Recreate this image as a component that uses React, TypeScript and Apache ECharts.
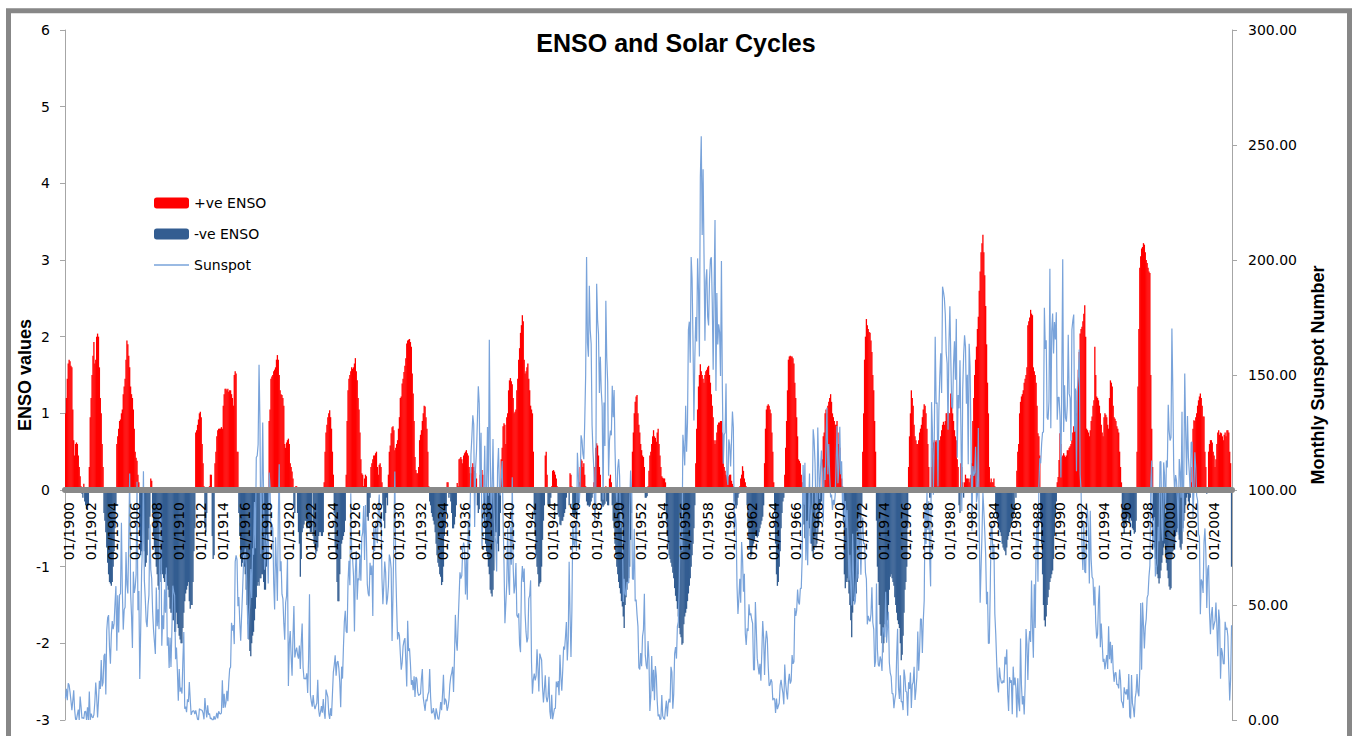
import React, { useEffect, useRef } from "react";
import * as echarts from "echarts";

// ENSO index, monthly, one row per year
const enso1900s = [
  1.0, 1.2, 1.45, 1.65, 1.7, 1.68, 1.62, 1.6, 1.05, 0.65, 0.45, 0.6,
  0.62, 0.6, 0.45, 0.3, 0.18, 0.05, -0.05, -0.1, 0.08, -0.15, -0.2, -0.25,
  -0.25, -0.2, 0.3, 0.95, 1.2, 1.5, 1.75, 1.93, 1.65, 1.7, 2.0, 2.04,
  2.0, 1.6, 1.2, 1.0, 0.6, 0.3, -0.3, -0.4, -0.55, -0.75, -0.95, -1.1,
  -1.2, -1.22, -1.25, -1.2, -1.0, -0.8, -0.5, -0.2, 0.6, 0.7, 0.8, 0.9,
  0.92, 1.0, 1.05, 1.25, 1.35, 1.45, 1.7, 1.95, 1.9, 1.75, 1.6, 1.35,
  1.25, 1.2, 1.05, 0.8, 0.5, 0.42, 0.38, 0.2, 0.1, -0.6, -0.85, -0.8,
  -0.7, -0.5, -0.8, -1.0, -0.95, -0.85, -0.65, -0.5, -0.35, 0.15, 0.12, -0.3,
  -0.6, -0.75, -0.85, -1.0, -1.1, -1.25, -1.3, -1.2, -1.1, -1.05, -1.1, -1.15,
  -1.2, -1.1, -1.2, -1.25, -1.3, -1.4, -1.55, -1.6, -1.6, -1.7, -1.7, -1.85,
];
const enso1910s = [
  -1.85, -1.6, -1.75, -1.8, -1.9, -1.95, -2.0, -2.0, -1.8, -1.6, -1.45, -1.35,
  -1.3, -1.25, -1.2, -1.45, -1.55, -1.5, -1.5, -1.2, -0.8, -0.5, 0.75, 0.78,
  0.85, 0.92, 1.0, 1.02, 0.95, 0.6, 0.35, 0.05, -0.5, -0.55, -0.3, 0.03,
  0.03, 0.05, 0.2, 0.2, -0.6, -0.9, -0.85, 0.35, 0.5, 0.7, 0.78, 0.8,
  0.8, 0.8, 0.82, 0.8, 1.1, 1.25, 1.32, 1.32, 1.3, 1.32, 1.28, 1.3,
  1.3, 1.25, 1.2, 1.1, 1.5, 1.55, 1.52, 0.5, 0.5, -0.3, -0.6, -0.9,
  -1.0, -0.95, -0.85, -1.0, -1.1, -1.3, -1.5, -1.75, -1.95, -2.1, -2.17, -2.0,
  -1.9, -1.85, -1.7, -1.55, -1.4, -1.25, -1.2, -1.25, -1.15, -1.15, -1.1, -1.1,
  -1.2, -1.3, -1.3, -1.0, -0.8, -0.5, 0.9, 1.05, 1.45, 1.48, 1.5, 1.55,
  1.57, 1.6, 1.7, 1.76, 1.7, 1.5, 1.3, 1.25, 1.24, 1.2, 1.1, 0.6,
];
const enso1920s = [
  0.55, 0.62, 0.65, 0.67, 0.6, 0.35, 0.3, 0.24, 0.15, -0.2, -0.3, 0.05,
  0.05, -0.3, -0.55, -0.7, -1.13, -0.9, -0.55, -0.5, -0.45, -0.4, -0.4, -0.5,
  -0.5, -0.45, -0.5, -0.55, -0.55, 0.03, -0.6, -0.7, -0.75, -0.83, -0.8, -0.75,
  -0.6, -0.55, -0.55, -0.6, -0.6, -0.55, 0.1, 0.5, 0.75, 0.85, 0.95, 1.0,
  1.04, 0.95, 0.8, 0.5, 0.2, -0.3, -0.75, -0.85, -1.2, -1.45, -1.45, -1.1,
  -0.9, -0.7, -0.65, -0.6, -0.55, -0.4, 0.2, 0.9, 1.3, 1.45, 1.5, 1.55,
  1.6, 1.58, 1.6, 1.65, 1.72, 1.55, 1.43, 1.2, 1.05, 0.75, 0.4, 0.22,
  0.2, 0.05, 0.15, 0.2, 0.18, -0.35, -0.4, -0.3, -0.1, 0.3, 0.35, 0.4,
  0.45, 0.45, 0.48, 0.5, 0.3, 0.2, 0.33, 0.35, 0.3, 0.1, -0.2, -0.4,
  -0.5, -0.3, -0.1, -0.2, 0.2, 0.5, 0.58, 0.74, 0.82, 0.83, 0.78, 0.52,
];
const enso1930s = [
  0.55, 0.6, 0.65, 0.8, 0.95, 1.2, 1.22, 1.39, 1.45, 1.54, 1.62, 1.72,
  1.91, 1.95, 1.96, 1.97, 1.93, 1.87, 1.52, 1.26, 0.9, 0.43, 0.26, 0.22,
  0.22, 0.3, 0.65, 0.72, 0.78, 0.9, 1.0, 1.1, 1.09, 0.95, 0.8, 0.5,
  0.05, -0.15, -0.2, -0.3, -0.35, -0.4, -0.45, -0.55, -0.7, -0.85, -0.95, -1.0,
  -1.1, -1.13, -1.24, -1.2, -1.0, -0.6, -0.5, -0.3, 0.1, 0.1, -0.1, -0.05,
  -0.15, -0.3, -0.5, -0.5, -0.45, -0.35, -0.2, 0.09, 0.05, 0.4, 0.41, 0.43,
  0.4, 0.35, 0.45, 0.48, 0.5, 0.52, 0.48, 0.45, 0.3, 0.22, 0.22, 0.3,
  0.35, 0.3, 0.25, 0.22, 0.15, -0.2, -0.3, -0.25, 0.2, 0.22, 0.26, 0.2,
  -0.3, -0.5, -0.7, -0.8, -0.87, -1.0, -1.1, -1.3, -1.35, -1.39, -1.3, -1.05,
  -0.6, -0.55, -0.55, -0.7, -0.8, -0.6, -0.3, 0.4, 0.55, 0.83, 0.87, 0.85,
];
const enso1940s = [
  0.6, 0.95, 1.0, 1.3, 1.43, 1.46, 1.42, 1.38, 1.2, 1.0, 1.02, 1.05,
  1.3, 1.45, 1.7, 1.85, 2.05, 2.15, 2.28, 2.2, 1.7, 1.52, 1.55, 1.6,
  1.65, 1.45, 1.3, 1.1, 1.05, 1.0, 0.5, -0.3, -0.6, -0.85, -1.0, -1.1,
  -1.26, -1.22, -1.2, -1.0, -0.65, -0.4, -0.2, 0.45, 0.5, 0.2, -0.2, -0.22,
  -0.2, -0.1, 0.05, 0.25, 0.26, 0.24, 0.2, 0.15, 0.05, -0.3, -0.35, -0.45,
  -0.46, -0.4, -0.4, -0.35, -0.3, -0.25, -0.1, 0.03, 0.02, -0.2, 0.22, 0.2,
  0.05, -0.3, -0.35, -0.35, -0.3, -0.3, -0.25, -0.2, 0.1, 0.3, 0.4, 0.38,
  0.3, 0.35, 0.2, 0.05, -0.15, -0.2, -0.2, -0.22, -0.2, -0.15, -0.1, -0.05,
  0.1, 0.3, 0.55, 0.61, 0.58, 0.45, 0.3, 0.2, -0.15, -0.2, -0.22, -0.2,
  -0.18, 0.05, -0.15, -0.2, -0.2, 0.15, 0.2, 0.1, -0.2, -0.4, -0.5, -0.7,
];
const enso1950s = [
  -0.85, -1.0, -1.1, -1.2, -1.28, -1.35, -1.45, -1.52, -1.65, -1.8, -1.5, -1.4,
  -1.3, -1.2, -1.15, -1.0, -0.65, -0.3, 0.5, 0.75, 1.0, 1.15, 1.22, 1.24,
  1.0, 0.85, 0.75, 0.6, 0.52, 0.45, 0.43, 0.3, -0.1, -0.1, -0.08, 0.05,
  0.25, 0.45, 0.5, 0.6, 0.7, 0.78, 0.7, 0.68, 0.63, 0.75, 0.8, 0.6,
  0.45, 0.3, 0.18, 0.16, 0.15, 0.15, 0.1, -0.4, -0.6, -0.7, -0.85, -0.9,
  -0.95, -1.0, -1.08, -1.15, -1.28, -1.38, -1.45, -1.55, -1.65, -1.8, -1.88, -1.92,
  -2.02, -2.0, -1.75, -1.65, -1.6, -1.55, -1.45, -1.35, -1.25, -1.15, -1.0, -0.85,
  -0.7, -0.5, -0.2, 0.35, 0.8, 1.05, 1.35, 1.5, 1.64, 1.55, 1.5, 1.45,
  1.4, 1.5, 1.55, 1.57, 1.6, 1.62, 1.5, 1.4, 1.25, 1.1, 0.95, 0.65,
  0.6, 0.65, 0.75, 0.85, 0.88, 0.88, 0.9, 0.9, 0.75, 0.55, 0.3, 0.25,
];
const enso1960s = [
  0.2, 0.18, 0.15, 0.18, 0.2, 0.2, 0.12, 0.08, 0.05, -0.15, -0.2, -0.24,
  -0.2, -0.1, -0.05, 0.05, 0.15, 0.2, 0.31, 0.25, 0.15, 0.1, 0.05, -0.2,
  -0.5, -0.65, -0.78, -0.88, -0.85, -0.75, -0.7, -0.65, -0.6, -0.6, -0.62, -0.6,
  -0.55, -0.5, -0.45, -0.4, -0.35, -0.2, 0.35, 0.8, 1.05, 1.1, 1.12, 1.1,
  1.05, 1.0, 0.75, 0.5, 0.1, -0.3, -0.7, -1.1, -1.25, -1.2, -1.0, -0.8,
  -0.5, -0.3, -0.15, -0.1, 0.2, 0.55, 0.9, 1.3, 1.7, 1.74, 1.75, 1.74,
  1.74, 1.72, 1.65, 1.4, 1.2, 0.95, 0.7, 0.4, 0.38, 0.35, 0.2, 0.1,
  -0.2, -0.45, -0.63, -0.65, -0.55, -0.4, -0.45, -0.5, -0.6, -0.7, -0.8, -0.88,
  -0.75, -0.6, -0.75, -0.7, -0.55, -0.45, -0.3, -0.2, -0.15, 0.4, 0.7, 0.75,
  1.0, 1.05, 1.0, 1.1, 1.15, 1.2, 1.25, 1.15, 1.0, 0.95, 0.9, 0.85,
];
const enso1970s = [
  0.85, 0.9, 0.75, 0.6, 0.55, 0.25, 0.15, 0.05, -0.4, -1.1, -1.28, -1.2,
  -1.15, -1.2, -1.35, -1.5, -1.7, -1.92, -1.6, -1.45, -1.4, -1.35, -1.35, -1.2,
  -1.1, -0.9, -0.7, -0.45, -0.2, 0.5, 1.0, 1.7, 2.0, 2.23, 2.15, 2.1,
  2.06, 2.05, 1.95, 1.8, 1.5, 1.3, 0.9, 0.5, -0.4, -1.0, -1.2, -1.5,
  -1.75, -1.9, -2.0, -2.12, -2.0, -1.75, -1.65, -1.8, -1.7, -1.5, -1.3, -1.13,
  -1.1, -1.15, -1.2, -1.25, -1.4, -1.5, -1.6, -1.7, -1.75, -1.8, -2.0, -2.22,
  -2.15, -1.9, -1.6, -1.3, -1.2, -1.0, -0.5, 0.3, 0.7, 1.0, 1.3, 1.2,
  1.1, 0.85, 0.7, 0.65, 0.6, 0.6, 0.65, 0.75, 0.8, 0.85, 0.95, 1.05,
  1.12, 1.1, 1.0, 0.8, 0.6, 0.3, -0.1, -0.1, 0.3, 0.55, 0.62, 0.65,
  0.63, 0.65, 0.62, 0.6, 0.65, 0.65, 0.7, 0.78, 0.85, 0.89, 0.85, 0.9,
];
const enso1980s = [
  1.0, 1.0, 1.02, 1.0, 1.0, 1.26, 1.2, 1.0, 0.9, 0.78, 0.7, 0.65,
  0.4, 0.3, -0.2, -0.3, 0.35, 0.3, 0.1, -0.1, 0.1, 0.2, 0.15, 0.15,
  0.15, 0.1, 0.15, 0.2, 0.35, 0.9, 1.2, 1.5, 1.7, 1.87, 2.1, 2.26,
  2.6, 2.85, 3.1, 3.22, 3.33, 3.1, 2.8, 2.4, 1.9, 1.4, 1.0, 0.3,
  0.1, 0.15, 0.1, 0.1, 0.15, 0.05, -0.3, -0.35, -0.4, -0.5, -0.52, -0.55,
  -0.6, -0.7, -0.75, -0.78, -0.8, -0.85, -0.75, -0.65, -0.6, -0.55, -0.5, -0.45,
  -0.4, -0.35, -0.3, 0.02, -0.1, 0.25, 0.5, 0.6, 1.0, 1.15, 1.22, 1.25,
  1.3, 1.4, 1.45, 1.5, 1.6, 2.15, 2.2, 2.25, 2.35, 2.3, 2.28, 1.6,
  1.55, 1.5, 1.4, 1.1, 0.74, 0.7, 0.45, -0.4, -0.7, -1.1, -1.5, -1.7,
  -1.78, -1.65, -1.5, -1.4, -1.3, -1.2, -1.15, -1.1, -1.05, -0.9, -0.6, -0.35,
];
const enso1990s = [
  -0.15, 0.1, 0.17, 0.39, 0.74, 0.6, 0.43, 0.45, 0.48, 0.45, 0.43, 0.45,
  0.52, 0.52, 0.55, 0.57, 0.6, 0.65, 0.75, 0.83, 1.0, 1.17, 1.0, 1.3,
  1.57, 1.8, 2.04, 2.1, 2.13, 2.2, 2.3, 2.41, 2.0, 0.8, 0.78, 0.75,
  0.7, 0.78, 0.9, 0.96, 1.1, 1.17, 1.87, 1.5, 1.22, 1.2, 1.17, 1.1,
  1.0, 0.85, 0.75, 0.7, 0.95, 1.0, 0.98, 0.95, 0.85, 0.8, 1.2, 1.43,
  1.4, 1.35, 1.1, 0.95, 0.93, 0.9, 0.83, 0.8, 0.75, 0.5, 0.3, 0.1,
  -0.4, -0.5, -0.57, -0.45, -0.4, -0.38, -0.35, -0.4, -0.42, -0.35, -0.4, -0.5,
  -0.52, -0.57, -0.55, -0.4, 0.5, 1.35, 2.1, 2.9, 3.05, 3.15, 3.17, 3.22,
  3.2, 3.1, 3.0, 2.96, 2.9, 2.85, 2.83, 1.5, 0.8, 0.3, -0.4, -0.75,
  -0.9, -1.0, -1.1, -1.15, -1.22, -1.15, -1.05, -0.95, -0.85, -0.75, -0.7, -0.85,
];
const enso2000s = [
  -0.95, -1.05, -1.15, -1.26, -1.3, -1.28, -0.9, -0.8, -0.78, -0.7, -0.6, -0.55,
  -0.5, -0.55, -0.65, -0.75, -0.78, -0.7, -0.5, -0.4, -0.3, -0.2, -0.1, -0.05,
  -0.15, -0.2, -0.1, 0.1, 0.3, 0.8, 0.91, 0.9, 0.95, 1.0, 1.1, 1.17,
  1.22, 1.26, 1.2, 1.1, 0.96, 0.96, 0.5, 0.3, -0.05, 0.02, 0.5, 0.6,
  0.65, 0.65, 0.62, 0.5, 0.45, 0.3, 0.4, 0.6, 0.75, 0.78, 0.72, 0.75,
  0.74, 0.7, 0.65, 0.72, 0.75, 0.7, 0.78, 0.78, 0.75, 0.5, 0.35, -1.0,
];

// Monthly sunspot number, one row per year
const sun1900s = [
  9.4, 13.6, 8.6, 16.0, 15.2, 12.1, 8.3, 4.3, 8.3, 12.9, 4.5, 0.3,
  0.2, 2.4, 4.5, 0.0, 10.2, 5.8, 0.7, 1.0, 0.6, 3.7, 3.8, 0.0,
  5.5, 0.0, 12.4, 0.0, 2.8, 1.4, 0.9, 2.3, 7.6, 16.3, 10.3, 1.1,
  8.3, 17.0, 13.5, 26.1, 14.6, 16.3, 27.9, 28.8, 11.1, 38.9, 44.5, 45.6,
  31.6, 24.5, 37.2, 43.0, 39.5, 41.9, 50.6, 58.2, 30.1, 54.2, 38.0, 54.6,
  54.8, 85.8, 56.5, 39.3, 48.0, 49.0, 73.0, 58.8, 55.0, 78.7, 107.2, 55.5,
  45.5, 31.3, 64.5, 55.3, 57.7, 63.2, 103.6, 47.7, 56.1, 17.8, 38.9, 64.7,
  76.4, 108.2, 60.7, 52.6, 42.9, 40.4, 49.7, 54.3, 85.0, 65.4, 61.5, 47.3,
  39.2, 33.9, 28.7, 57.6, 40.8, 48.1, 39.5, 90.5, 86.9, 32.3, 45.5, 39.5,
  56.7, 46.6, 66.3, 32.3, 36.0, 22.6, 35.8, 23.1, 38.8, 58.4, 55.8, 54.2,
];
const sun1910s = [
  26.4, 31.5, 21.4, 8.4, 22.2, 12.3, 14.1, 11.5, 26.2, 38.3, 4.9, 5.8,
  3.4, 9.0, 7.8, 16.5, 9.0, 2.2, 3.5, 4.0, 4.0, 2.6, 4.2, 2.2,
  0.3, 0.0, 4.9, 4.5, 4.4, 4.1, 3.0, 0.3, 9.5, 4.6, 1.1, 6.4,
  2.3, 2.9, 0.5, 0.9, 0.0, 0.0, 1.7, 0.2, 1.2, 3.1, 0.7, 3.8,
  2.8, 2.6, 3.1, 17.3, 5.2, 11.4, 5.4, 7.7, 12.7, 8.2, 16.4, 22.3,
  23.0, 42.3, 38.8, 41.3, 33.0, 68.8, 71.6, 69.6, 49.5, 53.5, 42.5, 34.5,
  45.3, 55.4, 67.0, 71.8, 74.5, 67.7, 53.5, 35.2, 45.1, 50.7, 65.6, 53.0,
  74.7, 71.9, 94.8, 74.7, 114.1, 114.9, 119.8, 154.5, 129.4, 72.2, 96.4, 129.3,
  96.0, 65.3, 72.2, 80.5, 76.7, 59.4, 107.6, 101.7, 79.9, 85.0, 83.4, 59.2,
  48.1, 79.5, 66.5, 51.8, 88.1, 111.2, 64.7, 69.0, 54.7, 52.8, 42.0, 34.9,
];
const sun1920s = [
  51.1, 53.9, 70.2, 14.8, 33.3, 38.7, 27.5, 19.2, 36.3, 49.6, 27.2, 29.9,
  31.5, 28.3, 26.7, 32.4, 22.2, 33.7, 41.9, 22.8, 17.8, 18.2, 17.8, 20.3,
  11.8, 26.4, 54.7, 11.0, 8.0, 5.8, 10.9, 6.5, 4.7, 6.2, 7.4, 17.5,
  4.5, 1.5, 3.3, 6.1, 3.2, 9.1, 3.5, 0.5, 13.2, 11.6, 10.0, 2.8,
  0.5, 5.1, 1.8, 11.3, 20.8, 24.0, 28.1, 19.3, 25.1, 25.6, 22.5, 16.5,
  5.5, 23.2, 18.0, 31.7, 42.8, 47.5, 38.5, 37.9, 60.2, 69.2, 58.6, 98.6,
  71.8, 69.9, 62.5, 38.5, 64.3, 73.5, 52.3, 61.6, 60.8, 71.5, 60.5, 79.4,
  81.6, 93.0, 69.6, 93.5, 79.1, 59.1, 54.9, 53.8, 68.4, 63.1, 67.2, 45.2,
  83.5, 73.5, 85.4, 80.6, 76.9, 91.4, 98.0, 83.8, 89.7, 61.4, 50.3, 59.0,
  68.9, 64.1, 50.2, 52.8, 58.2, 71.9, 70.2, 65.8, 34.4, 54.0, 81.1, 108.0,
];
const sun1930s = [
  65.3, 49.2, 35.0, 38.2, 36.8, 28.8, 21.9, 24.9, 32.1, 34.4, 35.6, 25.8,
  14.6, 43.1, 30.0, 31.2, 24.6, 15.3, 17.4, 13.0, 19.0, 10.0, 18.7, 17.8,
  12.1, 10.6, 11.2, 11.2, 17.9, 22.2, 9.6, 6.8, 4.0, 8.9, 8.2, 11.0,
  12.3, 22.2, 10.1, 2.9, 3.2, 5.2, 2.8, 0.2, 5.1, 3.0, 0.6, 0.3,
  3.4, 7.8, 4.3, 11.3, 19.7, 6.7, 9.3, 8.3, 4.0, 5.7, 8.7, 15.4,
  18.9, 20.5, 23.1, 12.2, 27.3, 45.7, 33.9, 30.1, 42.1, 53.2, 64.2, 61.5,
  62.8, 74.3, 77.1, 74.9, 54.6, 70.0, 52.3, 87.0, 76.0, 89.0, 115.4, 123.4,
  132.5, 128.5, 83.9, 109.3, 116.7, 130.3, 145.1, 137.7, 100.7, 124.9, 74.4, 88.8,
  98.4, 119.2, 86.5, 101.0, 127.4, 97.5, 165.3, 115.7, 89.6, 99.1, 122.2, 92.7,
  80.3, 77.4, 64.6, 109.1, 118.3, 101.0, 97.6, 105.8, 112.6, 88.1, 68.1, 42.1,
];
const sun1940s = [
  50.5, 59.4, 83.3, 60.7, 54.4, 83.9, 67.5, 105.5, 66.5, 55.0, 58.4, 68.3,
  45.6, 44.5, 46.4, 32.8, 29.5, 59.8, 66.9, 60.0, 65.9, 46.3, 38.3, 33.7,
  35.6, 52.8, 54.2, 60.7, 25.0, 11.4, 17.7, 20.2, 17.2, 19.2, 30.7, 22.5,
  12.4, 28.9, 27.4, 26.1, 14.1, 7.6, 13.2, 19.4, 10.0, 7.8, 10.2, 18.8,
  3.7, 0.5, 11.0, 0.3, 2.5, 5.0, 5.0, 16.7, 14.3, 16.9, 10.8, 28.4,
  18.5, 12.7, 21.5, 32.0, 30.6, 36.2, 42.6, 25.9, 34.9, 68.8, 46.0, 27.4,
  47.6, 86.2, 76.6, 75.7, 84.9, 73.5, 116.2, 107.2, 94.4, 102.3, 123.8, 121.7,
  115.7, 113.4, 129.8, 149.8, 201.3, 163.9, 157.9, 188.8, 169.4, 163.6, 128.0, 116.5,
  108.5, 86.1, 94.8, 189.7, 174.0, 167.8, 142.2, 157.9, 143.3, 136.3, 95.8, 138.0,
  119.1, 182.3, 157.5, 147.0, 106.2, 121.7, 125.8, 123.8, 145.3, 131.6, 143.5, 117.6,
];
const sun1950s = [
  101.6, 94.8, 109.7, 113.4, 106.2, 83.6, 91.0, 85.2, 51.3, 61.4, 54.8, 54.1,
  59.9, 59.9, 59.6, 92.9, 108.5, 100.6, 61.5, 61.0, 83.1, 51.6, 52.4, 45.8,
  40.7, 22.7, 22.0, 29.1, 23.4, 36.4, 39.3, 54.9, 28.2, 23.8, 22.1, 34.3,
  26.5, 3.9, 10.0, 27.8, 12.5, 21.8, 8.6, 23.5, 19.3, 8.2, 1.6, 2.5,
  0.2, 0.5, 10.9, 1.8, 0.8, 0.2, 4.8, 8.4, 1.5, 7.0, 9.2, 7.6,
  23.1, 20.8, 4.9, 11.3, 28.9, 31.7, 26.7, 40.7, 42.7, 58.5, 89.2, 76.9,
  73.6, 124.0, 118.4, 110.7, 136.6, 116.6, 129.1, 169.6, 173.2, 155.3, 201.3, 192.1,
  165.0, 130.2, 157.4, 175.2, 164.6, 200.7, 187.2, 158.0, 235.8, 253.8, 210.9, 239.4,
  202.5, 164.9, 190.7, 196.0, 175.3, 171.5, 191.4, 200.2, 201.2, 181.5, 152.3, 187.6,
  217.4, 143.1, 185.7, 163.3, 172.0, 168.7, 149.6, 199.6, 145.2, 111.4, 124.0, 125.0,
];
const sun1960s = [
  146.3, 106.0, 102.2, 122.0, 119.6, 110.2, 121.7, 134.1, 127.2, 82.8, 89.6, 85.6,
  57.9, 46.1, 53.0, 61.4, 51.0, 77.4, 70.2, 55.8, 63.6, 37.7, 32.6, 39.9,
  38.7, 50.3, 45.6, 46.4, 43.7, 42.0, 21.8, 21.8, 51.3, 39.5, 26.9, 23.2,
  19.8, 24.4, 17.1, 29.3, 43.0, 35.9, 19.6, 33.2, 38.8, 35.3, 23.4, 14.9,
  15.3, 17.7, 16.5, 8.6, 9.5, 9.1, 3.1, 9.3, 4.7, 6.1, 7.4, 15.1,
  17.5, 14.2, 11.7, 6.8, 24.1, 15.9, 11.9, 8.9, 16.8, 20.1, 15.8, 17.0,
  28.2, 24.4, 25.3, 48.7, 45.3, 47.7, 56.7, 51.2, 50.2, 57.2, 57.2, 70.4,
  110.9, 93.6, 111.8, 69.5, 86.5, 67.3, 91.5, 107.2, 76.8, 88.2, 94.3, 126.4,
  121.8, 111.9, 92.2, 81.2, 127.2, 110.3, 96.1, 109.3, 117.2, 107.7, 86.0, 109.8,
  104.4, 120.5, 135.8, 106.8, 120.0, 106.0, 96.8, 98.0, 91.3, 95.7, 93.5, 97.9,
];
const sun1970s = [
  111.5, 127.8, 102.9, 109.5, 127.5, 106.8, 112.5, 93.0, 99.5, 86.6, 95.2, 83.5,
  91.3, 79.0, 60.7, 71.8, 57.5, 49.8, 81.0, 61.4, 50.2, 51.7, 63.2, 82.2,
  61.5, 88.4, 80.1, 63.2, 80.5, 88.0, 76.5, 76.8, 64.0, 61.3, 41.6, 45.3,
  43.4, 42.9, 46.0, 57.7, 42.4, 39.5, 23.1, 25.6, 59.3, 30.7, 23.9, 23.3,
  27.6, 26.0, 21.3, 40.3, 39.5, 36.0, 55.8, 33.6, 40.2, 47.1, 25.0, 20.5,
  18.9, 11.5, 11.5, 5.1, 9.0, 11.4, 28.2, 39.7, 13.9, 9.1, 19.4, 7.8,
  8.1, 4.3, 21.9, 18.8, 12.4, 12.2, 1.9, 16.4, 13.5, 20.6, 5.2, 15.3,
  16.4, 23.1, 8.7, 12.9, 18.6, 38.5, 21.4, 30.1, 44.0, 43.8, 29.1, 43.2,
  51.9, 93.6, 76.5, 99.7, 82.7, 95.1, 70.4, 58.1, 138.2, 125.1, 97.9, 122.7,
  166.6, 137.5, 138.0, 101.5, 134.4, 149.5, 159.4, 142.2, 188.4, 186.2, 183.3, 176.3,
];
const sun1980s = [
  159.6, 155.0, 126.2, 164.1, 179.9, 157.3, 136.3, 135.4, 155.0, 164.7, 147.9, 174.4,
  114.0, 141.3, 135.5, 156.4, 127.5, 90.9, 143.8, 158.7, 167.3, 162.4, 137.5, 150.1,
  111.2, 163.6, 153.8, 122.0, 82.2, 110.4, 106.1, 107.6, 118.8, 94.7, 98.1, 127.0,
  84.3, 51.0, 66.5, 80.7, 99.2, 91.1, 82.2, 71.8, 50.3, 55.8, 33.3, 33.4,
  57.0, 85.1, 83.5, 69.7, 76.4, 46.1, 37.4, 25.5, 15.7, 12.0, 22.8, 18.7,
  16.5, 15.9, 17.2, 16.2, 27.5, 24.2, 30.7, 11.1, 3.9, 18.6, 16.2, 17.3,
  2.5, 23.2, 15.1, 18.5, 13.7, 1.1, 18.1, 7.4, 3.8, 35.4, 15.2, 6.8,
  10.4, 2.4, 14.7, 39.6, 33.0, 17.4, 33.0, 38.7, 33.9, 60.6, 39.9, 27.1,
  59.0, 40.0, 76.2, 88.0, 60.1, 101.8, 113.8, 111.6, 120.1, 125.1, 125.1, 179.2,
  161.3, 165.1, 131.4, 130.6, 138.5, 196.2, 126.9, 168.9, 176.7, 159.4, 173.0, 165.5,
];
const sun1990s = [
  177.3, 130.5, 140.3, 140.3, 132.2, 105.4, 149.4, 200.3, 125.2, 145.5, 131.4, 129.7,
  136.9, 167.5, 141.9, 140.0, 121.3, 169.7, 173.7, 176.3, 125.3, 144.1, 108.2, 144.4,
  150.0, 161.1, 106.7, 99.8, 73.8, 65.2, 85.7, 64.5, 63.9, 88.7, 91.8, 82.6,
  59.3, 91.0, 69.8, 62.2, 61.3, 49.8, 57.9, 42.4, 35.4, 37.3, 51.6, 58.5,
  31.6, 41.9, 33.9, 25.3, 26.6, 22.0, 25.4, 28.2, 22.2, 40.8, 26.4, 34.0,
  24.7, 32.6, 21.9, 16.6, 20.5, 20.6, 15.3, 15.5, 13.7, 21.9, 17.4, 8.3,
  7.4, 5.2, 14.2, 11.9, 11.1, 13.4, 8.8, 20.0, 1.5, 0.7, 19.6, 7.2,
  5.2, 1.2, 9.6, 12.2, 20.0, 12.1, 10.3, 22.1, 50.9, 21.9, 51.1, 41.4,
  31.1, 40.5, 43.9, 53.2, 54.5, 62.4, 67.1, 102.5, 112.8, 74.0, 81.5, 88.2,
  62.4, 66.0, 68.1, 84.0, 77.7, 112.3, 112.4, 83.8, 77.9, 112.0, 106.5, 90.0,
];
const sun2000s = [
  112.8, 109.8, 137.1, 125.6, 121.5, 122.9, 170.2, 143.8, 108.6, 98.9, 106.5, 104.1,
  95.6, 80.6, 113.5, 107.7, 96.6, 134.0, 81.8, 106.4, 150.7, 125.5, 106.5, 132.2,
  114.1, 107.4, 98.4, 120.7, 120.8, 88.3, 99.6, 116.4, 109.6, 97.5, 95.5, 80.8,
  79.7, 46.0, 61.1, 60.0, 55.2, 77.4, 83.3, 72.7, 48.7, 65.5, 67.3, 46.5,
  37.3, 45.8, 49.1, 39.3, 41.5, 43.2, 51.1, 40.9, 27.7, 48.0, 43.5, 17.9,
  31.3, 29.2, 24.5, 24.4, 42.7, 39.3, 40.1, 36.4, 22.1, 8.5, 18.0, 41.2,
];

const startYear = 1900;
const labelEvery = 24; // tick labels every two years
const seriesNames = ["+ve ENSO", "-ve ENSO", "Sunspot"];

const ensoValues = [
  ...enso1900s, ...enso1910s, ...enso1920s, ...enso1930s, ...enso1940s, ...enso1950s,
  ...enso1960s, ...enso1970s, ...enso1980s, ...enso1990s, ...enso2000s,
];
const sunspotValues = [
  ...sun1900s, ...sun1910s, ...sun1920s, ...sun1930s, ...sun1940s, ...sun1950s,
  ...sun1960s, ...sun1970s, ...sun1980s, ...sun1990s, ...sun2000s,
];
const monthLabels = ensoValues.map((_, i) => {
  const m = (i % 12) + 1;
  return `${m < 10 ? "0" + m : m}/${startYear + Math.floor(i / 12)}`;
});
const positiveEnso = ensoValues.map((v) => (v > 0 ? v : "-"));
const negativeEnso = ensoValues.map((v) => (v < 0 ? v : "-"));

const FONT = "DejaVu Sans";
const GRID_TOP = 30;
const GRID_BOTTOM = 16;
const PLOT_H = 736 - GRID_TOP - GRID_BOTTOM;
// x axis crosses the left axis at 0 (range -3..6)
const X_AXIS_OFFSET = -(PLOT_H * 3) / 9;

export default function App() {
  const ref = useRef<HTMLDivElement>(null);
  useEffect(() => {
    if (!ref.current) return;
    const chart = echarts.init(ref.current, null, { renderer: "svg" });
    chart.setOption({
      animation: false,
      backgroundColor: "#ffffff",
      textStyle: { fontFamily: FONT },
      title: {
        text: "ENSO and Solar Cycles",
        left: "center",
        top: 30,
        padding: 0,
        textStyle: { fontFamily: "Liberation Sans", fontSize: 25, fontWeight: "bold", color: "#000" },
      },
      legend: {
        orient: "vertical",
        left: 154,
        top: 196,
        itemWidth: 35,
        itemHeight: 11,
        itemGap: 17,
        padding: 0,
        data: [
          { name: seriesNames[0] },
          { name: seriesNames[1] },
          { name: seriesNames[2], icon: "path://M0,0L35,0L35,1.6L0,1.6Z" },
        ],
        textStyle: { fontFamily: FONT, fontSize: 14, color: "#000", lineHeight: 14 },
      },
      graphic: [
        {
          type: "rect",
          shape: { x: 8.5, y: 10.8, width: 1341, height: 760 },
          style: { fill: "none", stroke: "#878787", lineWidth: 5 },
          silent: true,
        },
      ],
      grid: {
        left: 65,
        right: 120,
        top: GRID_TOP,
        bottom: GRID_BOTTOM,
        containLabel: false,
        outerBoundsMode: "none",
      },
      xAxis: {
        type: "category",
        data: monthLabels,
        position: "bottom",
        offset: X_AXIS_OFFSET,
        axisLine: { onZero: false, lineStyle: { color: "#898989", width: 6 } },
        axisTick: { show: false },
        axisLabel: {
          interval: (i: number) => i % labelEvery === 0,
          rotate: 90,
          margin: 12,
          fontFamily: FONT,
          fontSize: 14,
          color: "#000",
          verticalAlign: "top",
          lineHeight: 7,
          hideOverlap: false,
        },
        splitLine: { show: false },
        z: 10,
      },
      yAxis: [
        {
          type: "value",
          min: -3,
          max: 6,
          interval: 1,
          name: "ENSO values",
          nameLocation: "middle",
          nameRotate: 90,
          nameGap: 31,
          nameMoveOverlap: false,
          nameTextStyle: { fontFamily: "Liberation Sans", fontWeight: "bold", fontSize: 18, color: "#000" },
          axisLine: { show: true, lineStyle: { color: "#a6a6a6", width: 1 } },
          axisTick: { show: true, length: 5, lineStyle: { color: "#a6a6a6" } },
          axisLabel: { fontFamily: FONT, fontSize: 14, color: "#000", margin: 15 },
          splitLine: { show: false },
        },
        {
          type: "value",
          min: 0,
          max: 300,
          interval: 50,
          position: "right",
          name: "Monthly Sunspot Number",
          nameLocation: "middle",
          nameRotate: 90,
          nameGap: 77,
          nameMoveOverlap: false,
          nameTextStyle: { fontFamily: "Liberation Sans", fontWeight: "bold", fontSize: 18, color: "#000" },
          axisLine: { show: true, lineStyle: { color: "#a6a6a6", width: 1 } },
          axisTick: { show: true, length: 5, lineStyle: { color: "#a6a6a6" } },
          axisLabel: {
            fontFamily: FONT,
            fontSize: 14,
            color: "#000",
            margin: 16,
            formatter: (v: number) => v.toFixed(2),
          },
          splitLine: { show: false },
        },
      ],
      series: [
        {
          name: seriesNames[0],
          type: "bar",
          data: positiveEnso,
          barWidth: 1.3,
          barGap: "-100%",
          itemStyle: { color: "#ff0000" },
          z: 2,
        },
        {
          name: seriesNames[1],
          type: "bar",
          data: negativeEnso,
          barWidth: 1.3,
          barGap: "-100%",
          itemStyle: { color: "#335d91" },
          z: 2,
        },
        {
          name: seriesNames[2],
          type: "line",
          yAxisIndex: 1,
          data: sunspotValues,
          symbol: "none",
          showSymbol: false,
          lineStyle: { color: "#79a3da", width: 1.2 },
          itemStyle: { color: "#79a3da" },
          z: 3,
        },
      ],
    });
    return () => chart.dispose();
  }, []);
  return (
    <div
      ref={ref}
      style={{ position: "absolute", left: 0, top: 0, width: 1352, height: 736 }}
    />
  );
}
